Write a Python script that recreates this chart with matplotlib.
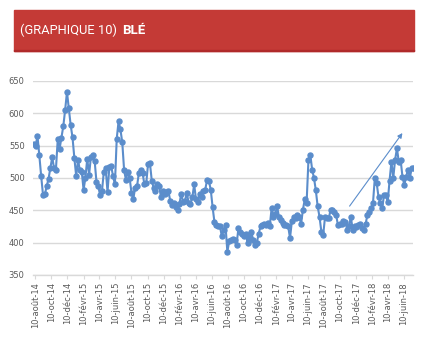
import numpy as np
import pandas as pd
import matplotlib
matplotlib.use("Agg")
import matplotlib.pyplot as plt
from matplotlib.patches import Rectangle

# weekly wheat price (from early Aug 2014)
prices_2014_16 = [
    552, 550, 565, 535, 503, 474, 475, 487, 499, 516, 532, 515, 513, 560, 545, 562, 580, 605,
    633, 608, 582, 563, 531, 503, 528, 512, 510, 482, 500, 530, 505, 533, 535, 527, 494, 487,
    473, 480, 510, 515, 478, 517, 518, 503, 490, 561, 588, 575, 555, 512, 497, 510, 500, 477,
    468, 485, 487, 508, 513, 508, 490, 492, 522, 523, 496, 485, 480, 490, 488, 470, 480, 475,
    478, 480, 465, 458, 462, 455, 451, 460, 476, 463, 465, 477, 462, 460, 470, 490, 467, 463,
    475, 470, 480, 482, 497, 495, 482, 455, 432, 428, 425,
]
prices_2016_18 = [
    425, 410, 420, 427, 386, 402, 404, 406, 404, 397, 422, 417, 414, 410, 414, 399, 407, 417,
    404, 397, 400, 414, 425, 427, 429, 428, 431, 425, 453, 440, 445, 456, 440, 435, 430, 427,
    427, 425, 407, 433, 440, 438, 443, 440, 429, 451, 467, 462, 528, 536, 513, 500, 481, 456,
    440, 417, 412, 440, 438, 438, 450, 450, 448, 443, 427, 429, 429, 433, 432, 420, 426, 440,
    420, 425, 424, 427, 429, 422, 420, 429, 443, 448, 453, 461, 500, 492, 471, 461, 453, 474,
    474, 463, 496, 525, 500, 528, 546, 525, 528, 502, 489, 502, 513, 500, 515, 515,
]
prices = prices_2014_16 + prices_2016_18
dates = pd.date_range("2014-08-04", periods=len(prices), freq="7D")

# tick labels (Excel style, French months), every 2 months on the 10th
tick_labels = ["10-août-14", "10-oct-14", "10-déc-14", "10-févr-15", "10-avr-15", "10-juin-15",
               "10-août-15", "10-oct-15", "10-déc-15", "10-févr-16", "10-avr-16", "10-juin-16",
               "10-août-16", "10-oct-16", "10-déc-16", "10-févr-17", "10-avr-17", "10-juin-17",
               "10-août-17", "10-oct-17", "10-déc-17", "10-févr-18", "10-avr-18", "10-juin-18"]
tick_dates = pd.date_range("2014-08-01", periods=len(tick_labels), freq="2MS") + pd.Timedelta(days=9)
y_ticks = [350, 400, 450, 500, 550, 600, 650]

# trend arrow drawn on the chart
arrow_start = (pd.Timestamp("2017-11-09"), 453)
arrow_end = (pd.Timestamp("2018-06-10"), 573)

blue = "#5b8dcb"
grey_txt = "#595959"

W, H = 424, 343
fig = plt.figure(figsize=(W / 100, H / 100), dpi=100)

# red title band
fig.patches.append(Rectangle((14 / W, 1 - 50.5 / H), 400 / W, 40.5 / H,
                             transform=fig.transFigure, color="#c43a36", zorder=0))
fig.patches.append(Rectangle((14 / W, 1 - 51 / H), 400 / W, 1 / H,
                             transform=fig.transFigure, color="#b02a2a", zorder=1))
fig.text(20 / W, 1 - 30 / H, "(GRAPHIQUE 10)", color="white", fontsize=9.3,
         family="Roboto", weight="normal", va="center")
fig.text(122 / W, 1 - 30 / H, "BLÉ", color="white", fontsize=9.5,
         family="Roboto", weight="bold", va="center")

ax = fig.add_axes([33 / W, 1 - 275 / H, 380 / W, 194 / H])
ax.plot(dates, prices, color=blue, lw=1.5, marker="o", ms=3.6, mec=blue, mfc=blue)
ax.annotate("", xy=arrow_end, xytext=arrow_start,
            arrowprops=dict(arrowstyle="-|>", color=blue, lw=0.8, mutation_scale=7))

ax.set_ylim(350, 650)
ax.set_yticks(y_ticks)
ax.set_xlim(pd.Timestamp("2014-08-01"), pd.Timestamp("2018-07-14"))
ax.set_xticks(tick_dates)
ax.set_xticklabels(tick_labels, rotation=90)

ax.grid(axis="y", color="#d9d9d9", lw=1)
ax.set_axisbelow(True)
for s in ["top", "right", "left"]:
    ax.spines[s].set_visible(False)
ax.spines["bottom"].set_color("#d9d9d9")
ax.spines["bottom"].set_linewidth(1)
ax.tick_params(axis="y", length=0, labelsize=6, labelcolor=grey_txt, pad=6)
ax.tick_params(axis="x", length=3, color="#d9d9d9", labelsize=6, labelcolor=grey_txt, pad=2)

fig.savefig("out.png", dpi=100)
